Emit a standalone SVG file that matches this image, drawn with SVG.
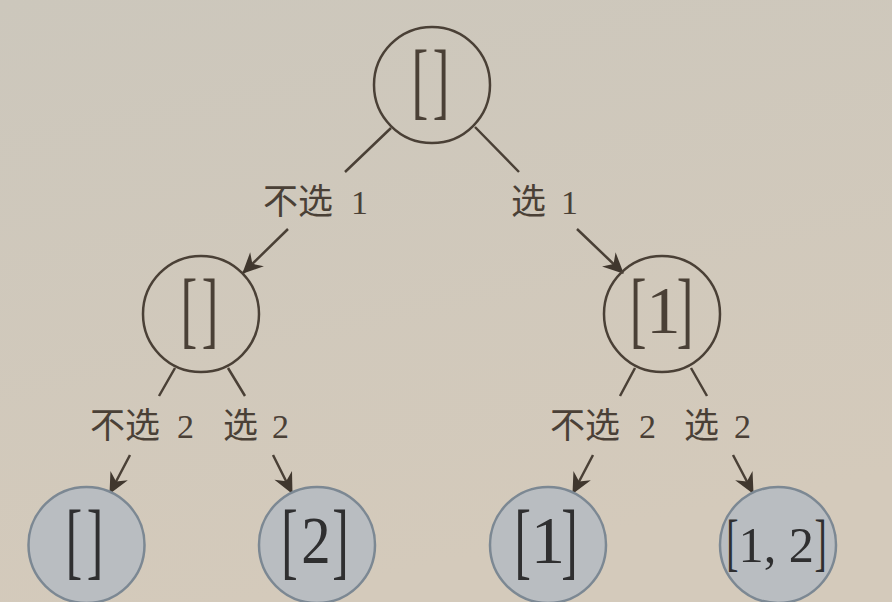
<svg xmlns="http://www.w3.org/2000/svg" width="892" height="602" viewBox="0 0 892 602">
<defs>
<linearGradient id="bg" x1="0" y1="0" x2="0.3" y2="1">
<stop offset="0" stop-color="#ccc7bc"/>
<stop offset="1" stop-color="#d4cabb"/>
</linearGradient>
<marker id="arr" markerUnits="userSpaceOnUse" markerWidth="24" markerHeight="24" viewBox="-20 -11 22 22" refX="0" refY="0" orient="auto">
<path d="M1,0 L-18,-9 L-12,0 L-18,9 Z" fill="#40372e"/>
</marker>
<style>
.edge{fill:none;stroke:#4a4036;stroke-width:2.5;marker-end:url(#arr)}
.inner{fill:none;stroke:#4a4036;stroke-width:2.5}
.leaf{fill:#b9bdc1;stroke:#7c8893;stroke-width:2.5}
.br{font-size:49.4px}
.brs{font-size:36.7px}
.dg{font-size:39.2px}
.dgs{font-size:29.6px}
.t1,.t2{font-family:"Liberation Serif","Times New Roman",serif}
.t1{fill:#4a4036}
.t2{fill:#2f2f30}
.lab{font-family:"Noto Sans CJK SC","Noto Sans",sans-serif;font-size:35px;font-weight:400;fill:#4a4036}
.num{font-family:"Liberation Serif","Times New Roman",serif;font-size:34px;font-weight:normal}
</style>
</defs>
<rect width="892" height="602" fill="url(#bg)"/>

<g id="connectors">
<path class="edge" d="M391,128 L345,172 M288,229 L243,273"/>
<path class="edge" d="M475,127 L519,172 M577,229 L623,273"/>
<path class="edge" d="M175,368 L159,396 M130,455 L110,493"/>
<path class="edge" d="M228,368 L245,396 M273,455 L292,493"/>
<path class="edge" d="M635,368 L620,396 M593,455 L573,493"/>
<path class="edge" d="M691,368 L707,396 M733,455 L753,493"/>
<text class="lab" x="263" y="214">不选 <tspan class="num" x="351">1</tspan></text>
<text class="lab" x="511" y="214">选 <tspan class="num" x="561">1</tspan></text>
<text class="lab" x="90" y="438">不选 <tspan class="num" x="177">2</tspan></text>
<text class="lab" x="223" y="438">选 <tspan class="num" x="272">2</tspan></text>
<text class="lab" x="550" y="438">不选 <tspan class="num" x="639">2</tspan></text>
<text class="lab" x="684" y="438">选 <tspan class="num" x="734">2</tspan></text>
</g>

<g id="node-root">
<circle class="inner" cx="432" cy="85" r="58"/>
<text class="t1" transform="scale(1,1.7)" x="411.7" y="63.88"><tspan class="br">[</tspan><tspan class="br" dx="4.65">]</tspan></text>
</g>

<g id="node-left">
<circle class="inner" cx="201" cy="314" r="58"/>
<text class="t1" transform="scale(1,1.7)" x="180.7" y="198.82"><tspan class="br">[</tspan><tspan class="br" dx="4.65">]</tspan></text>
</g>

<g id="node-right">
<circle class="inner" cx="662" cy="314" r="58"/>
<text class="t1" transform="scale(1,1.7)" x="629.9" y="198.82"><tspan class="br">[</tspan><tspan class="dg" dy="-2.94" textLength="34.3" lengthAdjust="spacingAndGlyphs">1</tspan><tspan class="br" dx="-4" dy="2.94">]</tspan></text>
</g>

<g id="leaf-empty">
<circle class="leaf" cx="86.5" cy="545" r="58"/>
<text class="t2" transform="scale(1,1.7)" x="65.7" y="334.47"><tspan class="br">[</tspan><tspan class="br" dx="4.65">]</tspan></text>
</g>

<g id="leaf-2">
<circle class="leaf" cx="317" cy="545" r="58"/>
<text class="t2" transform="scale(1,1.7)" x="281.2" y="334.47"><tspan class="br">[</tspan><tspan class="dg" dx="3.5" dy="-3.29" textLength="29.4" lengthAdjust="spacingAndGlyphs">2</tspan><tspan class="br" dx="1.8" dy="3.29">]</tspan></text>
</g>

<g id="leaf-1">
<circle class="leaf" cx="548" cy="545" r="58"/>
<text class="t2" transform="scale(1,1.7)" x="514.4" y="334.47"><tspan class="br">[</tspan><tspan class="dg" dy="-3.29" textLength="34.3" lengthAdjust="spacingAndGlyphs">1</tspan><tspan class="br" dx="-4" dy="3.29">]</tspan></text>
</g>

<g id="leaf-1-2">
<circle class="leaf" cx="778" cy="545" r="58"/>
<text class="t2" transform="scale(1,1.7)" x="726.3" y="331.18"><tspan class="brs">[</tspan><tspan class="dgs" dy="-0.59" textLength="75.5" lengthAdjust="spacingAndGlyphs">1, 2</tspan><tspan class="brs" dx="0.55" dy="0.59">]</tspan></text>
</g>
</svg>
